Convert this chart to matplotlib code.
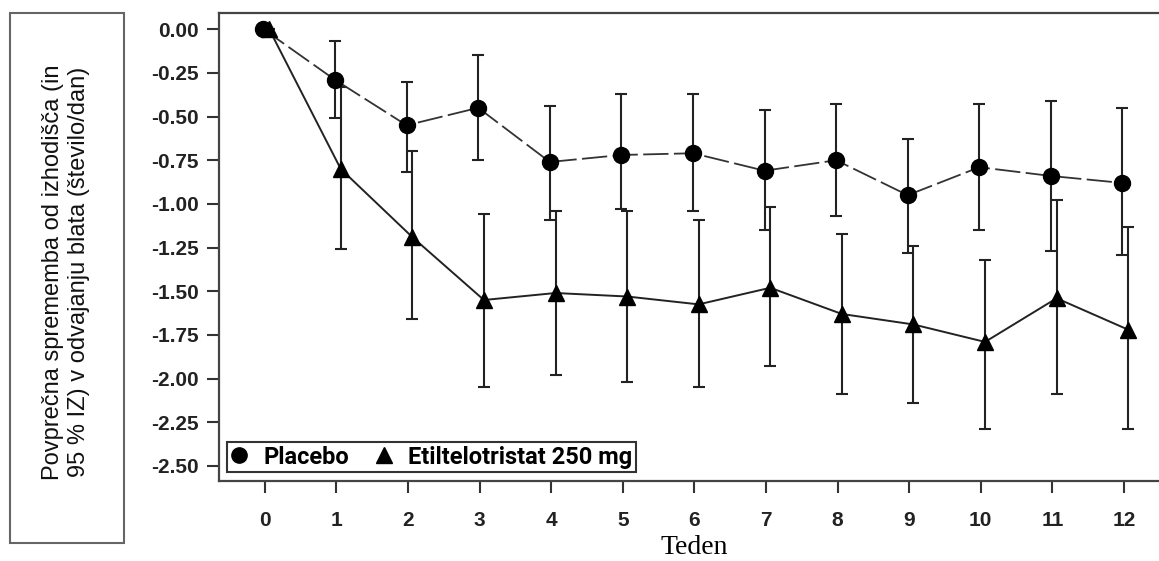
import matplotlib
matplotlib.use("Agg")
import matplotlib.pyplot as plt
from matplotlib.lines import Line2D
from matplotlib.patches import Rectangle
from matplotlib.ticker import FormatStrFormatter

plt.rcParams['axes.unicode_minus'] = False

weeks = [0, 1, 2, 3, 4, 5, 6, 7, 8, 9, 10, 11, 12]

placebo_mean = [0.00, -0.29, -0.55, -0.45, -0.76, -0.72, -0.71, -0.81, -0.75, -0.95, -0.79, -0.84, -0.88]
placebo_lo = [0.00, -0.51, -0.82, -0.75, -1.09, -1.03, -1.04, -1.15, -1.07, -1.28, -1.15, -1.27, -1.29]
placebo_hi = [0.00, -0.07, -0.30, -0.15, -0.44, -0.37, -0.37, -0.46, -0.43, -0.63, -0.43, -0.41, -0.45]

etil_mean = [0.00, -0.80, -1.19, -1.55, -1.51, -1.53, -1.575, -1.48, -1.63, -1.69, -1.79, -1.54, -1.72]
etil_lo = [0.00, -1.26, -1.66, -2.05, -1.98, -2.02, -2.05, -1.93, -2.09, -2.14, -2.29, -2.09, -2.29]
etil_hi = [0.00, -0.33, -0.70, -1.06, -1.04, -1.04, -1.09, -1.02, -1.17, -1.24, -1.32, -0.98, -1.13]

yticks = [0.00, -0.25, -0.50, -0.75, -1.00, -1.25, -1.50, -1.75, -2.00, -2.25, -2.50]

fig = plt.figure(figsize=(11.59, 5.61), dpi=100)
ax = fig.add_axes([0.189, 0.1426, 0.811, 0.834])

xp = [w - 0.02 for w in weeks]
xe = [w + 0.06 for w in weeks]
err_p = [[m - l for m, l in zip(placebo_mean, placebo_lo)],
         [h - m for m, h in zip(placebo_mean, placebo_hi)]]
err_e = [[m - l for m, l in zip(etil_mean, etil_lo)],
         [h - m for m, h in zip(etil_mean, etil_hi)]]

ax.errorbar(xp, placebo_mean, yerr=err_p, fmt='none', ecolor='#222222',
            elinewidth=1.5, capsize=4, capthick=1.5, zorder=2)
ax.plot(xp, placebo_mean, color='#333333', lw=1.3, dashes=(14, 3), zorder=3)
ax.plot(xp, placebo_mean, 'o', color='black', ms=11.5, zorder=4)

ax.errorbar(xe, etil_mean, yerr=err_e, fmt='none', ecolor='#222222',
            elinewidth=1.5, capsize=4, capthick=1.5, zorder=2)
ax.plot(xe, etil_mean, '-', color='#222222', lw=1.4, zorder=3)
ax.plot(xe, etil_mean, '^', color='black', ms=11, zorder=4)

ax.set_xlim(-0.64, 12.49)
ax.set_ylim(-2.586, 0.092)
ax.set_xticks(weeks)
ax.set_yticks(yticks)
ax.yaxis.set_major_formatter(FormatStrFormatter('%.2f'))

for s in ['left', 'bottom', 'top']:
    ax.spines[s].set_color('#444444')
    ax.spines[s].set_linewidth(1.6)
ax.spines['right'].set_visible(False)

ax.tick_params(axis='both', length=8.5, width=1.5, color='#333333')
ax.tick_params(axis='x', pad=13)
ax.tick_params(axis='y', pad=6)
for lab in ax.get_xticklabels() + ax.get_yticklabels():
    lab.set_fontfamily('Liberation Sans')
    lab.set_fontweight('bold')
    lab.set_fontsize(15)
    lab.set_color('#222222')

handles = [
    Line2D([], [], marker='o', color='black', ls='none', ms=11),
    Line2D([], [], marker='^', color='black', ls='none', ms=11),
]
leg = ax.legend(handles, ['Placebo', 'Etiltelotristat 250 mg'], ncol=2,
                loc='lower left', bbox_to_anchor=(0.0085, 0.019), borderaxespad=0,
                frameon=True, fancybox=False, edgecolor='black',
                handlelength=0.7, handletextpad=0.7, columnspacing=1.1,
                borderpad=0.15,
                prop={'family': 'Roboto', 'weight': 'bold', 'size': 17})
leg.get_frame().set_linewidth(1.5)

fig.patches.append(Rectangle((10 / 1159, 1 - 543 / 561), 114 / 1159, 530 / 561,
                             transform=fig.transFigure, fill=False,
                             edgecolor='#666666', lw=1.5))
fig.text(66 / 1159, 1 - 272 / 561,
         'Povprečna sprememba od izhodišča (in\n95 % IZ) v odvajanju blata (število/dan)',
         rotation=90, ha='center', va='center', multialignment='center',
         family='Liberation Sans', fontsize=17, color='#111111')

fig.text(694 / 1159, 1 - 548 / 561, 'Teden', ha='center', va='center',
         family='Liberation Serif', fontsize=20)

fig.savefig('out.png', dpi=100)
